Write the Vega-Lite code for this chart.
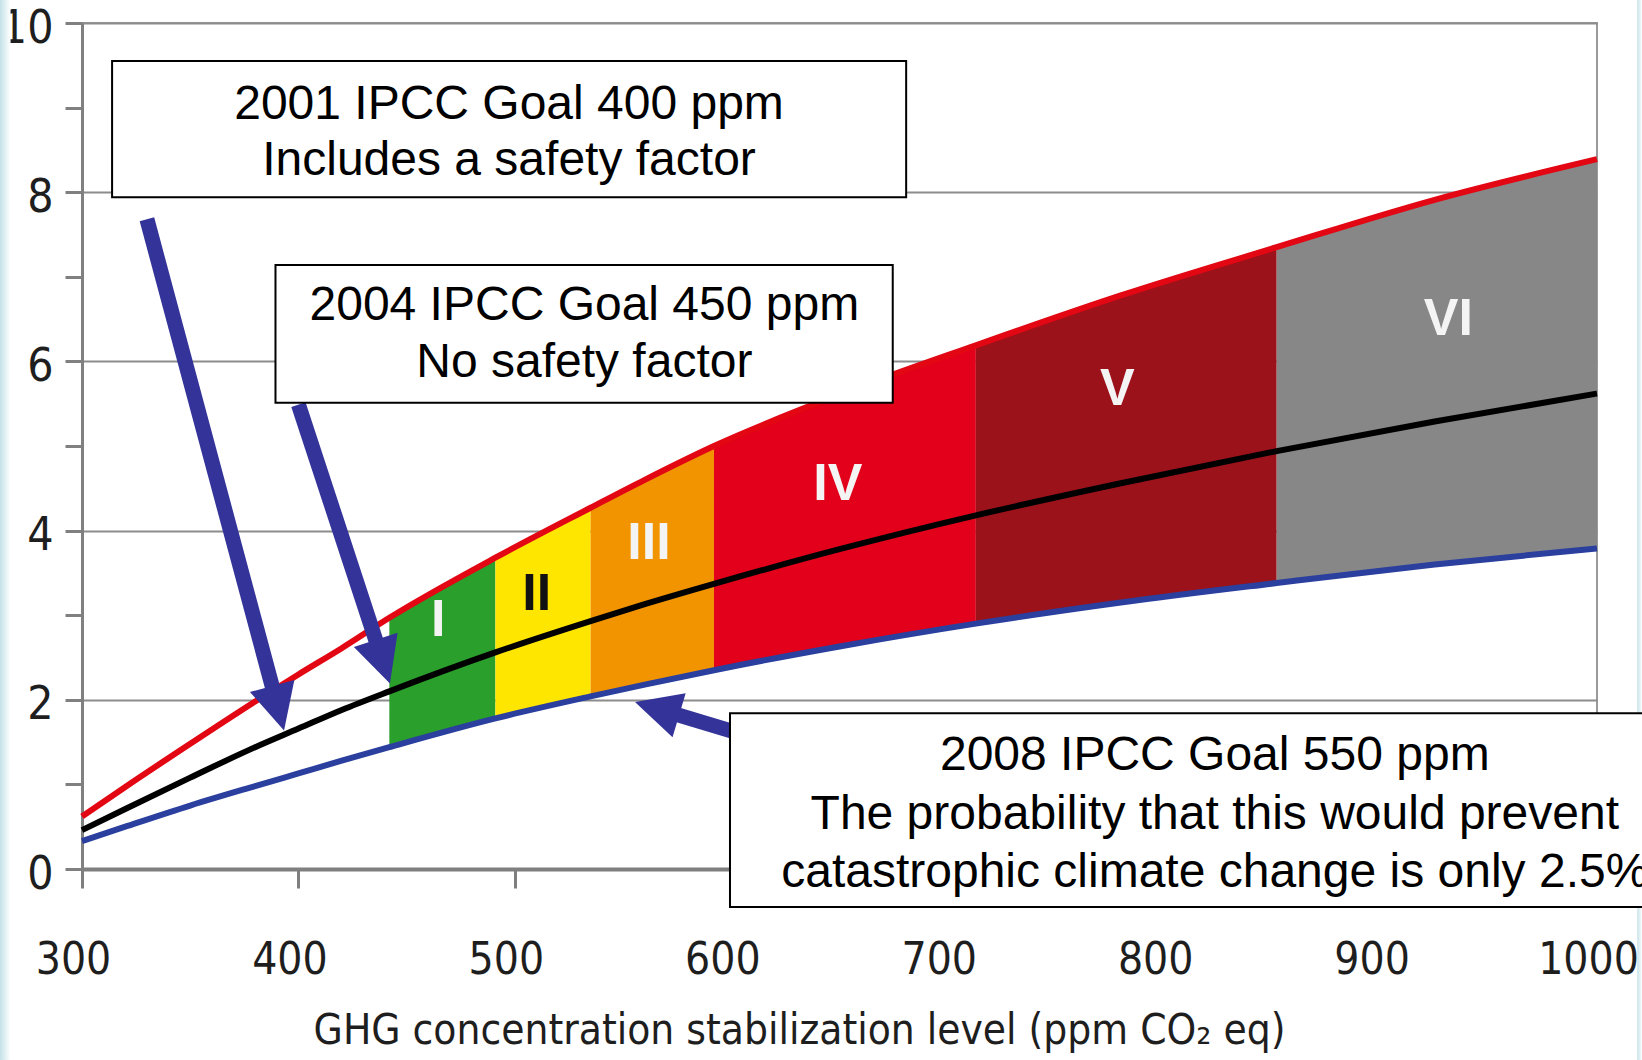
{
  "$schema": "https://vega.github.io/schema/vega-lite/v6.json",
  "width": 1515,
  "height": 846,
  "autosize": {"type": "none"},
  "padding": {"left": 82, "top": 23, "right": 45, "bottom": 191},
  "background": "white",
  "config": {"view": {"stroke": "#9a9a9a", "strokeWidth": 2}},
  "datasets": {
    "curves": [
      {"ppm": 300, "hi": 0.62, "mid": 0.46, "lo": 0.33},
      {"ppm": 320, "hi": 0.97, "mid": 0.71, "lo": 0.50},
      {"ppm": 350, "hi": 1.48, "mid": 1.08, "lo": 0.75},
      {"ppm": 380, "hi": 1.98, "mid": 1.44, "lo": 0.98},
      {"ppm": 400, "hi": 2.30, "mid": 1.66, "lo": 1.13},
      {"ppm": 420, "hi": 2.61, "mid": 1.88, "lo": 1.28},
      {"ppm": 442, "hi": 2.97, "mid": 2.10, "lo": 1.44},
      {"ppm": 491, "hi": 3.68, "mid": 2.56, "lo": 1.78},
      {"ppm": 535, "hi": 4.27, "mid": 2.93, "lo": 2.04},
      {"ppm": 560, "hi": 4.60, "mid": 3.13, "lo": 2.18},
      {"ppm": 592, "hi": 5.00, "mid": 3.37, "lo": 2.35},
      {"ppm": 650, "hi": 5.61, "mid": 3.78, "lo": 2.63},
      {"ppm": 713, "hi": 6.19, "mid": 4.18, "lo": 2.90},
      {"ppm": 780, "hi": 6.78, "mid": 4.56, "lo": 3.15},
      {"ppm": 852, "hi": 7.35, "mid": 4.94, "lo": 3.38},
      {"ppm": 925, "hi": 7.91, "mid": 5.29, "lo": 3.60},
      {"ppm": 1000, "hi": 8.39, "mid": 5.62, "lo": 3.79}
    ],
    "bands": [
      {"band": "I", "ppm": 442, "lo": 1.44, "hi": 2.97},
      {"band": "I", "ppm": 491, "lo": 1.78, "hi": 3.68},
      {"band": "II", "ppm": 491, "lo": 1.78, "hi": 3.68},
      {"band": "II", "ppm": 535, "lo": 2.04, "hi": 4.27},
      {"band": "III", "ppm": 535, "lo": 2.04, "hi": 4.27},
      {"band": "III", "ppm": 560, "lo": 2.18, "hi": 4.60},
      {"band": "III", "ppm": 592, "lo": 2.35, "hi": 5.00},
      {"band": "IV", "ppm": 592, "lo": 2.35, "hi": 5.00},
      {"band": "IV", "ppm": 650, "lo": 2.63, "hi": 5.61},
      {"band": "IV", "ppm": 713, "lo": 2.90, "hi": 6.19},
      {"band": "V", "ppm": 713, "lo": 2.90, "hi": 6.19},
      {"band": "V", "ppm": 780, "lo": 3.15, "hi": 6.78},
      {"band": "V", "ppm": 852, "lo": 3.38, "hi": 7.35},
      {"band": "VI", "ppm": 852, "lo": 3.38, "hi": 7.35},
      {"band": "VI", "ppm": 925, "lo": 3.60, "hi": 7.91},
      {"band": "VI", "ppm": 1000, "lo": 3.79, "hi": 8.39}
    ],
    "numerals": [
      {"label": "I", "ppm": 464.6, "val": 2.94},
      {"label": "II", "ppm": 510.1, "val": 3.25},
      {"label": "III", "ppm": 562.0, "val": 3.85},
      {"label": "IV", "ppm": 649.2, "val": 4.55},
      {"label": "V", "ppm": 778.4, "val": 5.67},
      {"label": "VI", "ppm": 931.3, "val": 6.50}
    ],
    "shafts": [
      {"x": 330.0, "y": 7.68, "x2": 390.6, "y2": 1.90},
      {"x": 400.0, "y": 5.49, "x2": 439.0, "y2": 2.45},
      {"x": 604.1, "y": 1.60, "x2": 565.7, "y2": 1.895}
    ],
    "heads": [
      {"x": 390.6, "y": 1.90},
      {"x": 439.0, "y": 2.45},
      {"x": 565.7, "y": 1.895}
    ],
    "boxes": [
      {"x": 313.9, "x2": 680.8, "y": 9.55, "y2": 7.94},
      {"x": 389.4, "x2": 674.6, "y": 7.14, "y2": 5.51},
      {"x": 599.4, "x2": 1030, "y": 1.84, "y2": -0.45}
    ],
    "notes": [
      {"x": 497.3, "y": 9.03, "t": "2001 IPCC Goal 400 ppm"},
      {"x": 497.3, "y": 8.37, "t": "Includes a safety factor"},
      {"x": 532.1, "y": 6.66, "t": "2004 IPCC Goal 450 ppm"},
      {"x": 532.1, "y": 5.98, "t": "No safety factor"},
      {"x": 823.4, "y": 1.34, "t": "2008 IPCC Goal 550 ppm"},
      {"x": 823.4, "y": 0.64, "t": "The probability that this would prevent"},
      {"x": 823.4, "y": -0.05, "t": "catastrophic climate change is only 2.5%"}
    ],
    "edges": [
      {"x": 262.1, "x2": 267.0, "y": 10.28, "y2": -2.27},
      {"x": 1018.6, "x2": 1020.8, "y": 10.28, "y2": -2.27}
    ]
  },
  "layer": [
    {
      "data": {"name": "bands"},
      "mark": {"type": "area", "interpolate": "monotone"},
      "encoding": {
        "x": {
          "field": "ppm", "type": "quantitative",
          "scale": {"domain": [300, 1000], "nice": false, "zero": false},
          "axis": {
            "title": "GHG concentration stabilization level (ppm CO₂ eq)",
            "values": [300, 400, 500, 600, 700, 800, 900, 1000],
            "format": "d",
            "grid": false,
            "domainColor": "#7f7f7f", "domainWidth": 4,
            "tickColor": "#7f7f7f", "tickWidth": 3, "tickSize": 19,
            "labelFont": "DejaVu Sans Condensed, Liberation Sans, sans-serif", "labelFontSize": 44, "labelColor": "#1e1e1e",
            "labelPadding": 50, "labelOffset": -9, "labelFlush": false, "labelOverlap": false, "labelBound": false,
            "titleFont": "DejaVu Sans Condensed, Liberation Sans, sans-serif", "titleFontSize": 42, "titleFontWeight": "normal", "titleColor": "#1e1e1e",
            "titleX": 717, "titleY": 174, "titleBaseline": "alphabetic", "titleAlign": "center"
          }
        },
        "y": {
          "field": "lo", "type": "quantitative", "stack": null,
          "scale": {"domain": [0, 10], "nice": false, "zero": false},
          "axis": {
            "title": null,
            "values": [0, 1, 2, 3, 4, 5, 6, 7, 8, 9, 10],
            "format": "d",
            "labelExpr": "datum.value % 2 === 0 ? datum.label : ''",
            "grid": true, "gridColor": "#8c8c8c", "gridWidth": 2,
            "gridOpacity": {"condition": {"test": "datum.value % 2 === 1", "value": 0}, "value": 1},
            "domainColor": "#808080", "domainWidth": 3,
            "tickColor": "#808080", "tickWidth": 3, "tickSize": 17,
            "labelFont": "DejaVu Sans Condensed, Liberation Sans, sans-serif", "labelFontSize": 46, "labelColor": "#1e1e1e",
            "labelPadding": 12, "labelOffset": 5, "labelFlush": false, "labelOverlap": false, "labelBound": false
          }
        },
        "y2": {"field": "hi"},
        "color": {
          "field": "band", "type": "nominal", "legend": null,
          "scale": {"domain": ["I", "II", "III", "IV", "V", "VI"], "range": ["#2a9f2c", "#ffe600", "#f29400", "#e2001a", "#9b121b", "#878787"]}
        }
      }
    },
    {
      "data": {"name": "edges"},
      "mark": {"type": "rect", "clip": false, "fill": {"gradient": "linear", "x1": 0, "x2": 1, "y1": 0, "y2": 0, "stops": [{"offset": 0, "color": "#c4e2e8"}, {"offset": 1, "color": "#ffffff"}]}},
      "encoding": {
        "x": {"field": "x", "type": "quantitative"},
        "x2": {"field": "x2"},
        "y": {"field": "y", "type": "quantitative"},
        "y2": {"field": "y2"}
      }
    },
    {
      "data": {"name": "curves"},
      "mark": {"type": "line", "interpolate": "monotone", "color": "#e30613", "strokeWidth": 6},
      "encoding": {
        "x": {"field": "ppm", "type": "quantitative"},
        "y": {"field": "hi", "type": "quantitative"}
      }
    },
    {
      "data": {"name": "curves"},
      "mark": {"type": "line", "interpolate": "monotone", "color": "#2b3f9e", "strokeWidth": 6},
      "encoding": {
        "x": {"field": "ppm", "type": "quantitative"},
        "y": {"field": "lo", "type": "quantitative"}
      }
    },
    {
      "data": {"name": "curves"},
      "mark": {"type": "line", "interpolate": "monotone", "color": "#000000", "strokeWidth": 6},
      "encoding": {
        "x": {"field": "ppm", "type": "quantitative"},
        "y": {"field": "mid", "type": "quantitative"}
      }
    },
    {
      "data": {"name": "numerals"},
      "mark": {"type": "text", "font": "Liberation Sans, Arial, sans-serif", "fontSize": 52, "fontWeight": "bold", "baseline": "middle", "align": "center"},
      "encoding": {
        "x": {"field": "ppm", "type": "quantitative"},
        "y": {"field": "val", "type": "quantitative"},
        "text": {"field": "label"},
        "color": {"condition": {"test": "datum.label === 'II'", "value": "#111111"}, "value": "#f4f4f4"}
      }
    },
    {
      "data": {"name": "shafts"},
      "mark": {"type": "rule", "color": "#333399", "strokeWidth": 15, "strokeCap": "butt"},
      "encoding": {
        "x": {"field": "x", "type": "quantitative"},
        "y": {"field": "y", "type": "quantitative"},
        "x2": {"field": "x2"},
        "y2": {"field": "y2"}
      }
    },
    {
      "data": {"name": "heads"},
      "transform": [{"filter": "datum.x < 400"}],
      "mark": {"type": "point", "shape": "M0,-1L-1,1L1,1Z", "size": 2116, "angle": 165, "filled": true, "color": "#333399", "opacity": 1},
      "encoding": {
        "x": {"field": "x", "type": "quantitative"},
        "y": {"field": "y", "type": "quantitative"}
      }
    },
    {
      "data": {"name": "heads"},
      "transform": [{"filter": "datum.x > 400 && datum.x < 500"}],
      "mark": {"type": "point", "shape": "M0,-1L-1,1L1,1Z", "size": 2116, "angle": 162, "filled": true, "color": "#333399", "opacity": 1},
      "encoding": {
        "x": {"field": "x", "type": "quantitative"},
        "y": {"field": "y", "type": "quantitative"}
      }
    },
    {
      "data": {"name": "heads"},
      "transform": [{"filter": "datum.x > 500"}],
      "mark": {"type": "point", "shape": "M0,-1L-1,1L1,1Z", "size": 2116, "angle": 286.6, "filled": true, "color": "#333399", "opacity": 1},
      "encoding": {
        "x": {"field": "x", "type": "quantitative"},
        "y": {"field": "y", "type": "quantitative"}
      }
    },
    {
      "data": {"name": "boxes"},
      "mark": {"type": "rect", "fill": "#ffffff", "stroke": "#000000", "strokeWidth": 2, "clip": false},
      "encoding": {
        "x": {"field": "x", "type": "quantitative"},
        "x2": {"field": "x2"},
        "y": {"field": "y", "type": "quantitative"},
        "y2": {"field": "y2"}
      }
    },
    {
      "data": {"name": "notes"},
      "mark": {"type": "text", "font": "Liberation Sans, Arial, sans-serif", "fontSize": 48, "baseline": "middle", "align": "center", "color": "#000000"},
      "encoding": {
        "x": {"field": "x", "type": "quantitative"},
        "y": {"field": "y", "type": "quantitative"},
        "text": {"field": "t"}
      }
    }
  ]
}
